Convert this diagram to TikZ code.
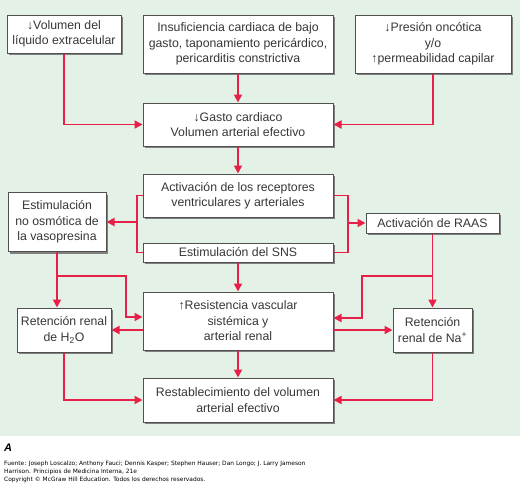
\documentclass[tikz,border=0pt]{standalone}
\usepackage{fontspec}
\setmainfont{Liberation Sans}
\newfontfamily\footfont{DejaVu Sans}
\usetikzlibrary{shadows,arrows.meta}
\definecolor{bg}{RGB}{227,241,231}
\definecolor{arrowred}{RGB}{232,32,72}
\definecolor{boxline}{RGB}{80,80,80}
\definecolor{txt}{RGB}{55,55,55}
\begin{document}
\begin{tikzpicture}[x=1pt,y=-1pt,
  box/.style={draw=boxline, line width=1pt, fill=white, align=center, inner sep=0pt, text=txt,
    font=\fontsize{12.3}{15.5}\selectfont,
    drop shadow={shadow xshift=2pt, shadow yshift=-2pt, fill=black!50, opacity=1}},
  arr/.style={draw=arrowred, line width=1.8pt, -{Triangle[length=8pt,width=8pt]}},
  ln/.style={draw=arrowred, line width=1.8pt}]
\fill[bg] (0,0) rectangle (520,436);
\useasboundingbox (0,0) rectangle (520,485);

\node[box, minimum width=114pt, minimum height=38pt] (v1) at (64,34) {↓Volumen del\\líquido extracelular};
\node[box, minimum width=190pt, minimum height=58pt] (ins) at (238,44) {Insuficiencia cardiaca de bajo\\gasto, taponamiento pericárdico,\\pericarditis constrictiva};
\node[box, minimum width=156pt, minimum height=58pt] (pres) at (433,44) {↓Presión oncótica\\y/o\\↑permeabilidad capilar};
\node[box, minimum width=190pt, minimum height=43pt] (gasto) at (238,124.5) {↓Gasto cardiaco\\Volumen arterial efectivo};
\node[box, minimum width=190pt, minimum height=43pt] (act) at (238,195.5) {Activación de los receptores\\ventriculares y arteriales};
\node[box, minimum width=190pt, minimum height=19pt] (sns) at (238,252.5) {Estimulación del SNS};
\node[box, minimum width=98pt, minimum height=59pt] (vaso) at (57,222) {Estimulación\\no osmótica de\\la vasopresina};
\node[box, minimum width=133pt, minimum height=20pt] (raas) at (432.5,223) {Activación de RAAS};
\node[box, minimum width=190pt, minimum height=58pt] (res) at (238,321) {↑Resistencia vascular\\sistémica y\\arterial renal};
\node[box, minimum width=94pt, minimum height=44pt] (h2o) at (64,330) {Retención renal\\de H\textsubscript{2}O};
\node[box, minimum width=79pt, minimum height=44pt] (na) at (432.5,330) {Retención\\renal de Na\textsuperscript{+}};
\node[box, minimum width=190pt, minimum height=44pt] (rest) at (238,400) {Restablecimiento del volumen\\arterial efectivo};

\coordinate (lb) at (137,222);
\coordinate (rb) at (348,223);
\coordinate (vb) at (57,276);
\coordinate (vc) at (126,317);
\coordinate (rbr) at (432.5,276);
\coordinate (rc) at (362,318);

\draw[arr] (v1.south) |- (gasto.west);
\draw[arr] (ins) -- (gasto);
\draw[arr] (pres.south) |- (gasto.east);
\draw[arr] (gasto) -- (act);
\draw[ln] (act.west) -| (lb) |- (sns.west);
\draw[arr] (lb) -- (vaso.east);
\draw[ln] (act.east) -| (rb) |- (sns.east);
\draw[arr] (rb) -- (raas.west);
\draw[arr] (sns) -- (res);
\draw[arr] (vaso.south) -- (h2o.north -| vaso.south);
\draw[arr] (vb) -| (vc) -- (vc -| res.west);
\draw[arr] (raas.south) -- (na.north);
\draw[arr] (rbr) -| (rc) -- (rc -| res.east);
\draw[arr] (res.west |- h2o.east) -- (h2o.east);
\draw[arr] (res.east |- na.west) -- (na.west);
\draw[arr] (res) -- (rest);
\draw[arr] (h2o.south) |- (rest.west);
\draw[arr] (na.south) |- (rest.east);

\node[anchor=west, inner sep=0pt, font=\bfseries\itshape\fontsize{11}{11}\selectfont] (lblA) at (4,448) {A};
\node[anchor=north west, inner sep=0pt, align=left, font=\footfont\fontsize{5.9}{8}\selectfont] (src) at (4,461)
 {Fuente: Joseph Loscalzo; Anthony Fauci; Dennis Kasper; Stephen Hauser; Dan Longo; J. Larry Jameson\\
  Harrison. Principios de Medicina Interna, 21e\\
  Copyright © McGraw Hill Education. Todos los derechos reservados.};
\end{tikzpicture}
\end{document}
